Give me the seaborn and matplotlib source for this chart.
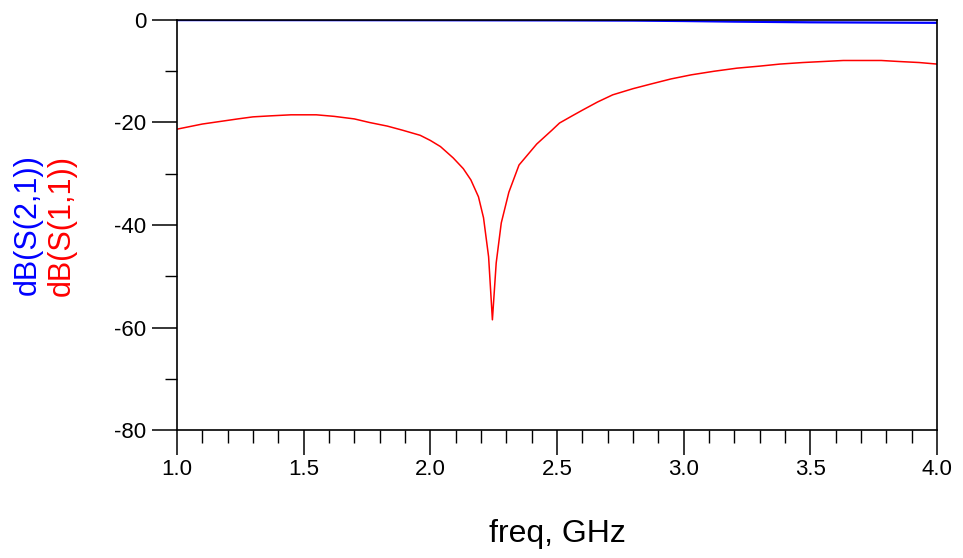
import pandas as pd
import matplotlib.pyplot as plt
import seaborn as sns
from matplotlib.ticker import MultipleLocator

sns.set_style("white")
plt.rcParams['font.family'] = ['Liberation Sans', 'DejaVu Sans']
plt.rcParams['axes.unicode_minus'] = False

# S(1,1)
freq_s11 = [1.00, 1.05, 1.10, 1.17, 1.24, 1.30, 1.37, 1.45, 1.55, 1.62, 1.70, 1.76,
            1.83, 1.89, 1.96, 2.00, 2.04, 2.09, 2.13, 2.16, 2.19, 2.21, 2.23, 2.245,
            2.26, 2.28, 2.31, 2.35, 2.42, 2.48, 2.51, 2.56, 2.60, 2.66, 2.72, 2.80,
            2.87, 2.95, 3.03, 3.12, 3.21, 3.30, 3.38, 3.47, 3.55, 3.63, 3.70, 3.78,
            3.85, 3.93, 4.00]
db_s11 = [-21.3, -20.8, -20.3, -19.8, -19.3, -18.9, -18.7, -18.5, -18.5, -18.8, -19.3, -20.0,
          -20.7, -21.5, -22.5, -23.5, -24.7, -26.9, -29.0, -31.2, -34.5, -38.6, -46.2, -58.5,
          -47.4, -39.6, -33.6, -28.3, -24.2, -21.5, -20.1, -18.7, -17.6, -16.0, -14.6, -13.4,
          -12.5, -11.5, -10.7, -10.0, -9.4, -9.0, -8.6, -8.3, -8.1, -7.9, -7.9, -7.9,
          -8.1, -8.3, -8.6]

# S(2,1) stays near 0 dB
freq_s21 = [1.0, 1.5, 2.0, 2.5, 2.8, 3.0, 3.2, 3.5, 4.0]
db_s21 = [-0.02, -0.03, -0.05, -0.08, -0.12, -0.2, -0.32, -0.45, -0.55]

df11 = pd.DataFrame({'freq': freq_s11, 'dB': db_s11})
df21 = pd.DataFrame({'freq': freq_s21, 'dB': db_s21})

fig = plt.figure(figsize=(9.63, 5.58), dpi=100)
ax = fig.add_axes([177/963, 1 - 430/558, 760/963, 410/558])

sns.lineplot(data=df21, x='freq', y='dB', color='#0000ff', linewidth=1.6, ax=ax)
sns.lineplot(data=df11, x='freq', y='dB', color='#ff0000', linewidth=1.1, ax=ax)

ax.set_xlim(1.0, 4.0)
ax.set_ylim(-80, 0)
ax.xaxis.set_major_locator(MultipleLocator(0.5))
ax.xaxis.set_minor_locator(MultipleLocator(0.1))
ax.yaxis.set_major_locator(MultipleLocator(20))
ax.yaxis.set_minor_locator(MultipleLocator(10))
ax.set_xticklabels([f'{v:.1f}' for v in ax.get_xticks()])

ax.tick_params(which='major', direction='out', length=18, width=1.1, color='black',
               labelsize=16, labelcolor='black', pad=3, bottom=True, left=True)
ax.tick_params(which='minor', direction='out', length=9, width=1.0, color='black',
               bottom=True, left=True)
ax.tick_params(axis='y', which='major', pad=4)

for sp in ax.spines.values():
    sp.set_color('black')
    sp.set_linewidth(1.2)

ax.set_xlabel('freq, GHz', fontsize=23, color='black', labelpad=28)
ax.set_ylabel('')

fig.text(28/963, 1 - 225/558, 'dB(S(2,1))', color='#0000ff', fontsize=22,
         rotation=90, ha='center', va='center')
fig.text(62/963, 1 - 225/558, 'dB(S(1,1))', color='#ff0000', fontsize=22,
         rotation=90, ha='center', va='center')

fig.savefig('out.png', dpi=100)
